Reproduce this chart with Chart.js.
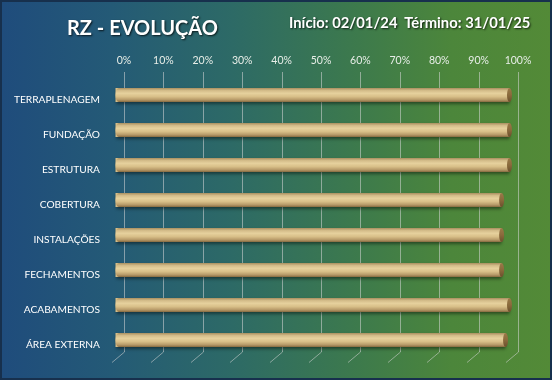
<!DOCTYPE html>
<html><head><meta charset="utf-8">
<script src="https://cdn.jsdelivr.net/npm/chart.js@4.4.0/dist/chart.umd.min.js"></script>
<style>
html,body{margin:0;padding:0;background:#fff;}
#wrap{position:relative;width:552px;height:380px;box-sizing:border-box;border:2px solid #17304d;
background:linear-gradient(to right,#1f4c7c 0%,#245a76 20%,#2d6a66 42%,#3d7a4c 65%,#4c863b 82%,#538a37 100%);overflow:hidden;}
canvas{position:absolute;left:-2px;top:-2px;}
.t{position:absolute;color:#fff;font-family:Lato,"DejaVu Sans",sans-serif;font-weight:bold;white-space:nowrap;text-shadow:1px 1px 2px rgba(0,0,0,.75);line-height:1;}
</style></head><body>
<div id="wrap">
<canvas id="c" width="552" height="380"></canvas>
<div class="t" style="left:65px;top:15px;font-size:20px;">RZ - EVOLUÇÃO</div>
<div class="t" style="left:287px;top:13px;font-size:14.8px;">Início: 02/01/24&nbsp; Término: 31/01/25</div>
</div>
<script>
const categories = ['TERRAPLENAGEM','FUNDAÇÃO','ESTRUTURA','COBERTURA','INSTALAÇÕES','FECHAMENTOS','ACABAMENTOS','ÁREA EXTERNA'];
const progress = [1.00, 1.00, 1.00, 0.98, 0.98, 0.98, 1.00, 0.99];
const tickValues = [0,0.1,0.2,0.3,0.4,0.5,0.6,0.7,0.8,0.9,1.0];
const tickLabels = ['0%','10%','20%','30%','40%','50%','60%','70%','80%','90%','100%'];

const SHIFT_X = -8.5, SHIFT_Y = -4.5, WALL_UP = 10, FLOOR_DX = 12.5, FLOOR_DY = 10.5;

const wallPlugin = {
  id: 'wall3d',
  beforeDatasetsDraw(chart) {
    const {ctx, chartArea: a, scales: {x}} = chart;
    ctx.save();
    ctx.strokeStyle = 'rgba(215,215,215,0.55)';
    ctx.lineWidth = 1;
    tickValues.forEach(v => {
      const px = Math.round(x.getPixelForValue(v)) + 0.5;
      const bottom = a.bottom - WALL_UP;
      ctx.beginPath();
      ctx.moveTo(px, a.top - WALL_UP);
      ctx.lineTo(px, bottom);
      ctx.lineTo(px - FLOOR_DX, bottom + FLOOR_DY);
      ctx.stroke();
    });
    ctx.restore();
    ctx.save();
    ctx.translate(SHIFT_X, SHIFT_Y);
    ctx.shadowColor = 'rgba(0,0,0,0.45)';
    ctx.shadowOffsetX = 0;
    ctx.shadowOffsetY = 2;
    ctx.shadowBlur = 3;
  },
  afterDatasetsDraw(chart) {
    const ctx = chart.ctx;
    ctx.shadowColor = 'transparent';
    ctx.shadowBlur = 0; ctx.shadowOffsetY = 0;
    const meta = chart.getDatasetMeta(0);
    meta.data.forEach(el => {
      const p = el.getProps(['x','y','base','height'], true);
      const h = p.height, top = p.y - h/2, bot = p.y + h/2, left = p.base, right = p.x;
      const r = 3.5;
      const g = ctx.createLinearGradient(0, top, 0, bot);
      g.addColorStop(0, '#a98f5f');
      g.addColorStop(0.18, '#d3bc89');
      g.addColorStop(0.38, '#e6d19d');
      g.addColorStop(0.62, '#d8bf88');
      g.addColorStop(0.85, '#b59867');
      g.addColorStop(1, '#85693f');
      ctx.fillStyle = g;
      ctx.beginPath();
      ctx.moveTo(left + r, top);
      ctx.lineTo(right, top);
      ctx.lineTo(right, bot);
      ctx.lineTo(left + r, bot);
      ctx.ellipse(left + r, p.y, r, h/2, 0, Math.PI/2, Math.PI*1.5);
      ctx.closePath();
      ctx.fill();
      const cg = ctx.createLinearGradient(0, top, 0, bot);
      cg.addColorStop(0, '#9a7a48');
      cg.addColorStop(0.5, '#8a6a3c');
      cg.addColorStop(1, '#6a4f2c');
      ctx.fillStyle = cg;
      ctx.beginPath();
      ctx.ellipse(right, p.y, 2.5, h/2, 0, 0, Math.PI*2);
      ctx.fill();
    });
    ctx.restore();
  }
};

new Chart(document.getElementById('c'), {
  type: 'bar',
  data: {
    labels: categories,
    datasets: [{
      data: progress,
      backgroundColor: '#d6bd88',
      borderWidth: 0,
      barPercentage: 0.4,
      categoryPercentage: 1,
      clip: false
    }]
  },
  options: {
    indexAxis: 'y',
    responsive: false,
    animation: false,
    devicePixelRatio: 1,
    layout: {padding: {top: 50, left: 4, right: 34, bottom: 18}},
    plugins: {legend: {display: false}, tooltip: {enabled: false}},
    scales: {
      x: {
        position: 'top', min: 0, max: 1,
        afterBuildTicks: s => { s.ticks = tickValues.map(v => ({value: v})); },
        ticks: {color: '#e8eee8', font: {family: 'Lato', size: 10.5}, padding: 15, maxRotation: 0,
                callback: (v, i) => tickLabels[i]},
        grid: {display: false, drawTicks: false},
        border: {display: false},
        afterFit: s => { s.height = 32; s.paddingLeft = 0; s.paddingRight = 0; }
      },
      y: {
        ticks: {color: '#ffffff', font: {family: 'Lato', size: 10.2}, padding: 24},
        grid: {display: false, drawTicks: false},
        border: {display: false},
        afterFit: s => { s.width = 120; s.paddingTop = 0; s.paddingBottom = 0; }
      }
    }
  },
  plugins: [wallPlugin]
});
</script>
</body></html>
